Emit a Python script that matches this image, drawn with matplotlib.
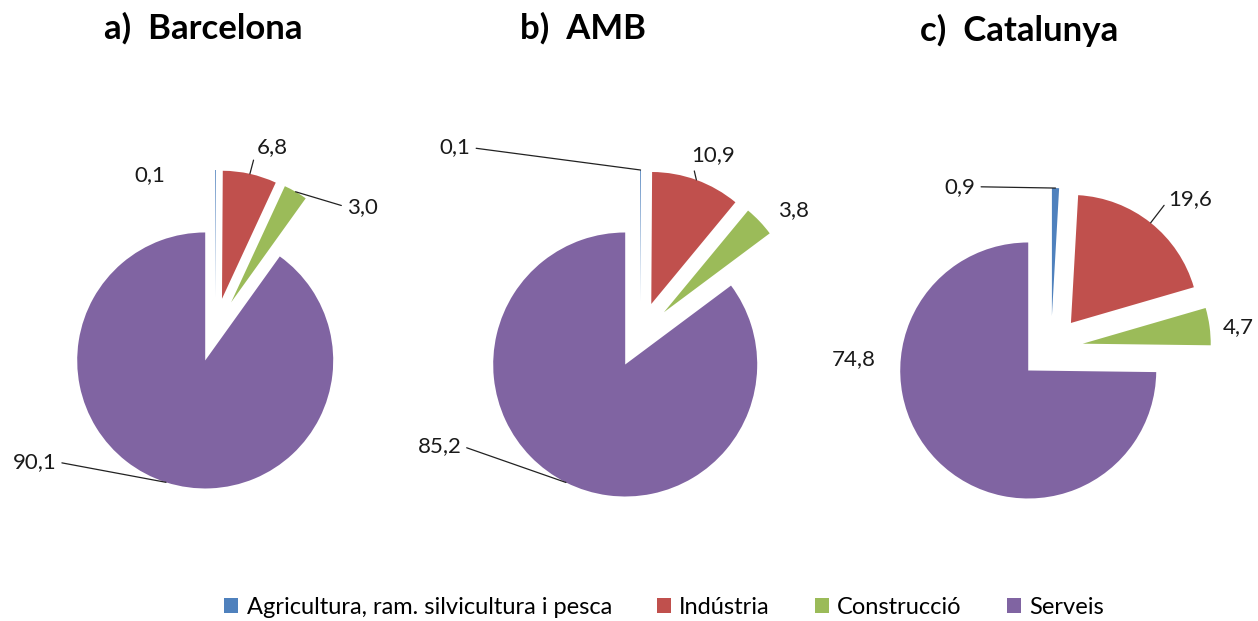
import matplotlib.pyplot as plt
import numpy as np

# Data
categories = ['Agricultura, ram. silvicultura i pesca', 'Indústria', 'Construcció', 'Serveis']
barcelona = [0.1, 6.8, 3.0, 90.1]
amb = [0.1, 10.9, 3.8, 85.2]
catalunya = [0.9, 19.6, 4.7, 74.8]
titles = ['a)  Barcelona', 'b)  AMB', 'c)  Catalunya']
colors = ['#4F81BD', '#C0504D', '#9BBB59', '#8064A2']

# Layout (pixels in a 1258x621 figure)
W, H = 1258, 621
centers = [(215, 330), (640, 335), (1051, 348)]
radius_px = [128, 132, 128]
title_pos = [(203, 28), (583, 28), (1019, 30)]
# label offsets in pie-radius units, relative to the pie centre
label_pos = [
    [(-0.51, 1.21), (0.45, 1.43), (1.15, 0.96), (-1.41, -1.03)],
    [(-1.40, 1.42), (0.55, 1.36), (1.16, 0.95), (-1.52, -0.84)],
    [(-0.71, 1.26), (1.09, 1.16), (1.46, 0.16), (-1.54, -0.09)],
]
leaders = [
    [False, True, True, True],
    [True, True, False, True],
    [True, True, False, False],
]

plt.rcParams['font.family'] = ['Lato', 'DejaVu Sans']

fig = plt.figure(figsize=(W / 100, H / 100), dpi=100)
half = 210

wedges_all = None
for i, vals in enumerate([barcelona, amb, catalunya]):
    cx, cy = centers[i]
    r = radius_px[i]
    ax = fig.add_axes([(cx - half) / W, (H - cy - half) / H, 2 * half / W, 2 * half / H])
    wedges, _ = ax.pie(vals, colors=colors, startangle=90, counterclock=False,
                       explode=[0.25] * 4, radius=1, wedgeprops=dict(linewidth=0))
    if wedges_all is None:
        wedges_all = wedges
    lim = half / r
    ax.set_xlim(-lim, lim)
    ax.set_ylim(-lim, lim)
    ax.set_aspect('equal')
    ax.axis('off')

    for j, w in enumerate(wedges):
        txt = f'{vals[j]:.1f}'.replace('.', ',')
        tx, ty = label_pos[i][j]
        th = np.deg2rad((w.theta1 + w.theta2) / 2)
        ex, ey = w.center
        px, py = ex + np.cos(th), ey + np.sin(th)
        if leaders[i][j]:
            rel = (1, 0.5) if tx < px else (0, 0.5)
            ax.annotate(txt, xy=(px, py), xytext=(tx, ty), ha='center', va='center',
                        fontsize=16, color='#1a1a1a', annotation_clip=False,
                        arrowprops=dict(arrowstyle='-', color='#222222', lw=0.9,
                                        relpos=rel, shrinkA=2, shrinkB=0))
        else:
            ax.text(tx, ty, txt, ha='center', va='center', fontsize=16,
                    color='#1a1a1a', clip_on=False)

for i, t in enumerate(titles):
    x, y = title_pos[i]
    fig.text(x / W, 1 - y / H, t, ha='center', va='center',
             fontsize=25, fontweight='bold', color='black')

fig.legend(wedges_all, categories, loc='center', bbox_to_anchor=(664 / W, 1 - 607 / H),
           ncol=4, frameon=False, fontsize=17, handlelength=0.6, handleheight=0.6,
           handletextpad=0.35, columnspacing=1.9)

plt.savefig('out.png', dpi=100)
